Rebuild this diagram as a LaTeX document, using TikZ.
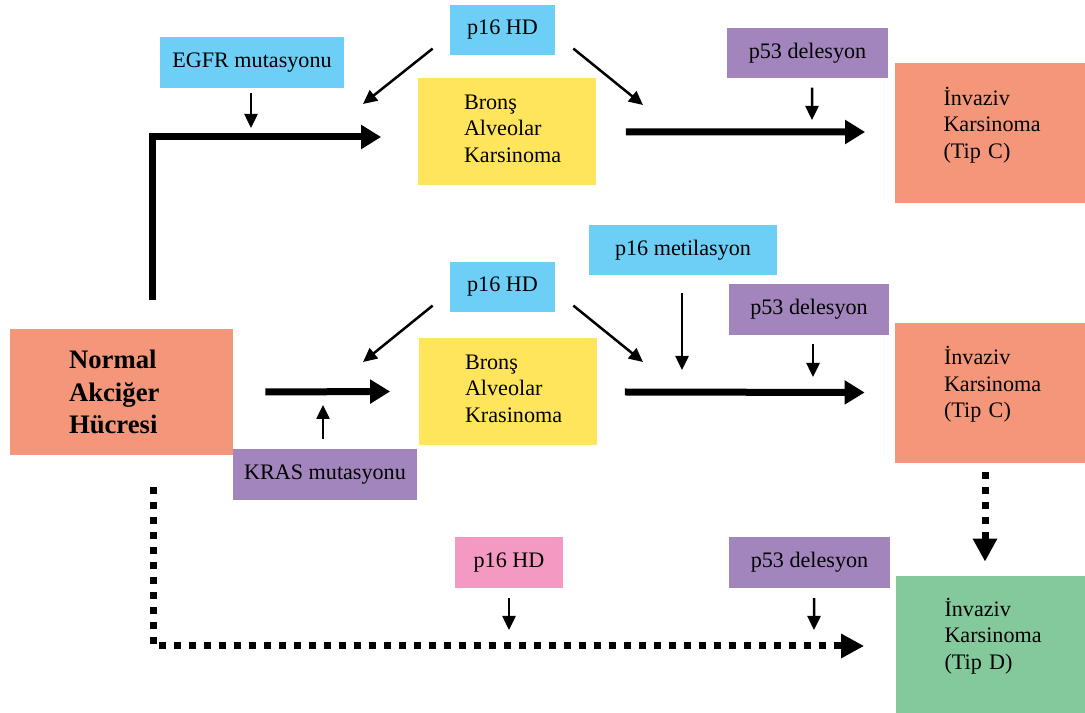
\documentclass[tikz,border=0pt]{standalone}
\usepackage{fontspec}
\setmainfont{Liberation Serif}
\usetikzlibrary{arrows.meta,calc}
\definecolor{cBlue}{HTML}{6DCFF6}
\definecolor{cPurple}{HTML}{A285BD}
\definecolor{cSalmon}{HTML}{F49679}
\definecolor{cYellow}{HTML}{FFE55C}
\definecolor{cGreen}{HTML}{84C99B}
\definecolor{cPink}{HTML}{F49AC2}
\tikzset{
  box/.style={inner sep=0pt, align=center, font=\fontsize{12.6}{15.1}\selectfont},
  mutbox/.style={box, minimum height=10.1mm},
  bluebox/.style={mutbox, fill=cBlue},
  purplebox/.style={mutbox, fill=cPurple},
  pinkbox/.style={mutbox, fill=cPink},
  bakbox/.style={box, fill=cYellow, align=left, text width=17mm, text depth=11.8mm,
                 minimum width=35.6mm, minimum height=21.4mm},
  invbox/.style={box, align=left, text width=18.4mm, text depth=14.9mm,
                 minimum width=38mm, minimum height=28mm},
  cellbox/.style={box, fill=cSalmon, align=left, text width=21mm,
                  font=\fontsize{15.2}{18.5}\selectfont\bfseries},
  bigarr/.style={-{Triangle[length=4mm,width=4.6mm]}, line width=1.4mm},
  thinarr/.style={-{Triangle[length=2.8mm,width=2.6mm]}, line width=0.5mm},
  dotarr/.style={-{Triangle[length=4.6mm,width=4.6mm]}, line width=1.4mm,
                 dash pattern=on 1.4mm off 1.6mm}
}

\begin{document}
\begin{tikzpicture}[x=0.2mm, y=-0.2mm]
\useasboundingbox (0,0) rectangle (1085,713);

% boxes
\node[cellbox, minimum width=44.6mm, minimum height=25.2mm] (normal) at (121.5,392) {Normal\\Akciğer\\Hücresi};
\node[bluebox, minimum width=36.8mm] (egfr) at (252,62.5) {EGFR mutasyonu};
\node[bluebox, minimum width=21mm] (hdA) at (502.5,30) {p16 HD};
\node[bakbox] (bakA) at (506.5,131.5) {Bronş\\Alveolar\\Karsinoma};
\node[purplebox, minimum width=32.2mm] (delA) at (807.5,53) {p53 delesyon};
\node[invbox, fill=cSalmon] (invA) at (989.5,133.5) {İnvaziv\\Karsinoma\\(Tip C)};

\node[bluebox, minimum width=37.6mm] (met) at (683,250) {p16 metilasyon};
\node[bluebox, minimum width=21mm] (hdB) at (502.5,287) {p16 HD};
\node[purplebox, minimum width=32mm] (delB) at (809,309.5) {p53 delesyon};
\node[bakbox] (bakB) at (507.5,391.5) {Bronş\\Alveolar\\Krasinoma};
\node[invbox, fill=cSalmon] (invB) at (990,393) {İnvaziv\\Karsinoma\\(Tip C)};
\node[purplebox, minimum width=36.8mm] (kras) at (325,474.5) {KRAS mutasyonu};

\node[pinkbox, minimum width=21.6mm] (hdC) at (509,562.5) {p16 HD};
\node[purplebox, minimum width=32.2mm] (delC) at (809.5,562.5) {p53 delesyon};
\node[invbox, fill=cGreen, minimum height=27.4mm] (invD) at (990.5,644.5) {İnvaziv\\Karsinoma\\(Tip D)};

% tips of the side arrows
\coordinate (egfrTip) at (251,128);
\coordinate (hdAl) at (363,104);
\coordinate (hdAr) at (643,105);
\coordinate (delATip) at (812,120);
\coordinate (hdBl) at (363,362);
\coordinate (hdBr) at (643,362);
\coordinate (metTip) at (682,370);
\coordinate (delBTip) at (813,377);
\coordinate (krasTip) at (323,405);
\coordinate (hdCTip) at (509,630);
\coordinate (delCTip) at (814,630);

% main paths
\draw[bigarr] ($(normal.north)+(30.5,-29)$) |- ($(bakA.west)+(-36,5.5)$);
\draw[bigarr] ($(bakA.east)+(30,0.5)$) -- ($(invA.west)+(-29,-1.5)$);
\draw[bigarr] ($(normal.east)+(32,0)$) -- ($(bakB.west)+(-28,0)$);
\draw[bigarr] ($(bakB.east)+(28,0.5)$) -- ($(invB.west)+(-30,-0.5)$);
\draw[dotarr] ($(normal.south)+(31.5,32)$) |- ($(invD.west)+(-31,1.5)$);
\draw[dotarr] ($(invB.south)+(-5,9)$) -- ($(invD.north)+(-5.5,-14)$);

% side arrows
\draw[thinarr] ($(egfr.south)+(-1,5)$) -- (egfrTip);
\draw[thinarr] ($(hdA.south west)+(-17,-7)$) -- (hdAl);
\draw[thinarr] ($(hdA.south east)+(18,-7)$) -- (hdAr);
\draw[thinarr] ($(delA.south)+(4.5,9)$) -- (delATip);
\draw[thinarr] ($(hdB.south west)+(-17,-7)$) -- (hdBl);
\draw[thinarr] ($(hdB.south east)+(18,-7)$) -- (hdBr);
\draw[thinarr] ($(met.south)+(-1,17)$) -- (metTip);
\draw[thinarr] ($(delB.south)+(4,9)$) -- (delBTip);
\draw[thinarr] ($(kras.north)+(-2,-10)$) -- (krasTip);
\draw[thinarr] ($(hdC.south)+(0,10)$) -- (hdCTip);
\draw[thinarr] ($(delC.south)+(4.5,10)$) -- (delCTip);
\end{tikzpicture}
\end{document}
